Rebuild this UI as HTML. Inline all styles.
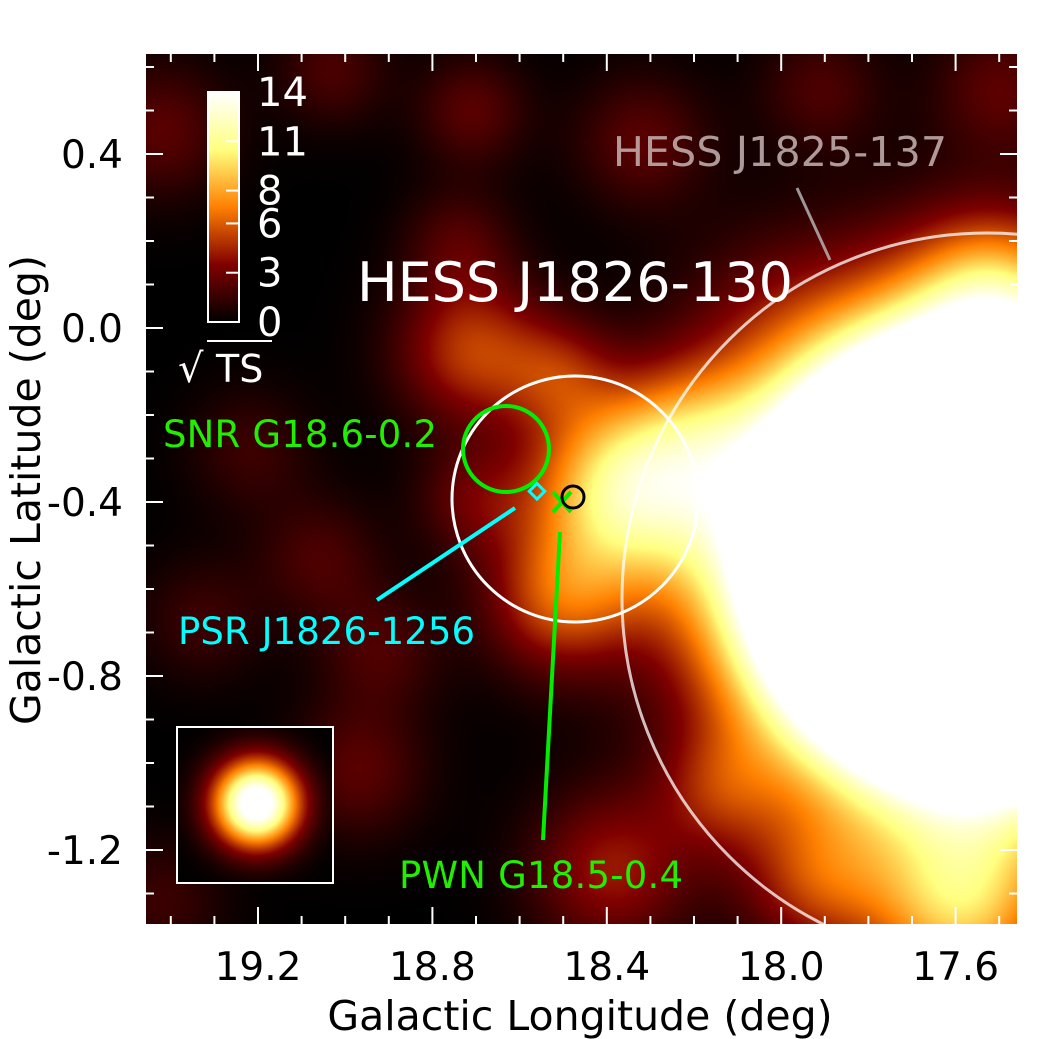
<!DOCTYPE html>
<html><head><meta charset="utf-8"><style>
body{margin:0;background:#fff;}
#wrap{position:relative;width:1039px;height:1039px;overflow:hidden;font-family:"Liberation Sans","DejaVu Sans",sans-serif;}
canvas{position:absolute;left:146px;top:54px;}
svg{position:absolute;left:0;top:0;}
text{font-family:"DejaVu Sans","Liberation Sans",sans-serif;}
</style></head><body>
<div id="wrap">
<canvas id="map" width="871" height="870"></canvas>
<svg id="ov" width="1039" height="1039">
<defs><linearGradient id="cb" x1="0" y1="1" x2="0" y2="0">
<stop offset="0" stop-color="#000"/><stop offset="0.25" stop-color="#800000"/><stop offset="0.5" stop-color="#ff8000"/><stop offset="0.75" stop-color="#ffff80"/><stop offset="1" stop-color="#fff"/></linearGradient></defs>
<g id="ticks"></g>
<rect x="208" y="92" width="31" height="230" fill="url(#cb)" stroke="#fff" stroke-width="2"/>
<g id="cbticks"></g>
<g id="cblabels" fill="#fff" font-size="40"></g>
<text x="178" y="382" fill="#fff" font-size="40">√</text>
<text x="216" y="382" fill="#fff" font-size="38">TS</text>
<line x1="207" y1="341" x2="272" y2="341" stroke="#fff" stroke-width="2"/>
<rect x="177" y="727" width="156" height="156" fill="none" stroke="#fff" stroke-width="2"/>
<circle cx="987" cy="598" r="365" fill="none" stroke="#fff" stroke-opacity="0.75" stroke-width="3"/>
<circle cx="575" cy="499" r="123" fill="none" stroke="#fff" stroke-width="3"/>
<circle cx="506" cy="449" r="43" fill="none" stroke="#00ee00" stroke-width="4"/>
<rect x="531" y="486" width="11" height="11" fill="none" stroke="#00ffff" stroke-width="3" transform="rotate(45 537 492)"/>
<path d="M553 492 L571 512 M571 492 L553 512" stroke="#00ee00" stroke-width="4"/>
<circle cx="573" cy="497" r="11" fill="none" stroke="#000" stroke-width="3"/>
<line x1="797" y1="188" x2="830" y2="260" stroke="#bbb" stroke-opacity="0.8" stroke-width="3"/>
<line x1="515" y1="508" x2="377" y2="600" stroke="#00ffff" stroke-width="4"/>
<line x1="560" y1="532" x2="543" y2="840" stroke="#00ee00" stroke-width="4"/>
<text x="613" y="166" fill="#c8b4b4" fill-opacity="0.85" font-size="41" textLength="334">HESS J1825-137</text>
<text x="357" y="301" fill="#fff" font-size="54" textLength="436">HESS J1826-130</text>
<text x="163" y="447" fill="#22ee00" font-size="37" textLength="274">SNR G18.6-0.2</text>
<text x="178" y="644" fill="#00ffff" font-size="37" textLength="297">PSR J1826-1256</text>
<text x="399" y="888" fill="#22ee00" font-size="37" textLength="284">PWN G18.5-0.4</text>
<g id="xl" font-size="39" text-anchor="middle"></g>
<g id="yl" font-size="39" text-anchor="end"></g>
<text x="580" y="1030" font-size="41" text-anchor="middle">Galactic Longitude (deg)</text>
<text x="0" y="0" font-size="41" text-anchor="middle" transform="translate(40,490) rotate(-90)">Galactic Latitude (deg)</text>
</svg>
</div>
<script>
// ---- data ----
const srcLon = [17.56,17.52,18.36,18.51,18.19,18.71,18.51,19.42,19.03,18.71,18.32,17.91,17.50,18.74,18.05,19.22,19.06,18.92,18.97,18.39,17.59,18.14,19.33,18.71,19.42,17.92];
const srcLat = [-0.53,0.10,-0.37,-0.625,-0.234,-0.05,-0.10,0.455,0.593,0.50,0.43,0.55,0.55,0.20,0.06,-0.28,-0.53,-0.74,-1.016,-1.246,-1.33,-1.06,-0.67,-0.395,-1.315,-1.27];
const srcAmp = [75,4,10,5,3,5,3,2.4,2,2.4,2.4,2,2.4,2,1,1.6,2,2,2.4,4,8,3,1.6,2.4,1.6,4];
const srcSig = [0.30,0.12,0.15,0.12,0.12,0.12,0.09,0.11,0.09,0.09,0.11,0.1,0.11,0.09,0.14,0.1,0.1,0.1,0.11,0.13,0.15,0.1,0.1,0.09,0.1,0.12];
const xTicks = [19.2,18.8,18.4,18.0,17.6];
const xTickLabels = ["19.2","18.8","18.4","18.0","17.6"];
const yTicks = [0.4,0.0,-0.4,-0.8,-1.2];
const yTickLabels = ["0.4","0.0","-0.4","-0.8","-1.2"];
const cbTicks = [14,11,8,6,3,0];
const cbMax = 14;
// ---- axes ----
const X0=146,X1=1017,Y0=54,Y1=924;
function xs(lon){return 258+(19.2-lon)*436;}
function ys(lat){return 154+(0.4-lat)*435;}
function lonOf(px){return 19.2-(px-258)/436;}
function latOf(py){return 0.4-(py-154)/435;}
function cmap(v){let t=Math.max(0,Math.min(1,v/cbMax));return [Math.min(1,2*t)*255,Math.max(0,Math.min(1,2*t-0.5))*255,Math.max(0,Math.min(1,2*t-1))*255];}
// ---- map ----
const cv=document.getElementById('map'),ctx=cv.getContext('2d');
const W=871,H=870,img=ctx.createImageData(W,H);
for(let j=0;j<H;j++){const lat=latOf(Y0+j);for(let i=0;i<W;i++){const px=X0+i,py=Y0+j;let v=0;
 if(px>=177&&px<=333&&py>=727&&py<=883){const dx=px-256,dy=py-803;v=16*Math.exp(-(dx*dx+dy*dy)/(2*30*30));}
 else{const lon=lonOf(px);for(let k=0;k<srcLon.length;k++){const a=(lon-srcLon[k]),b=(lat-srcLat[k]);v+=srcAmp[k]*Math.exp(-(a*a+b*b)/(2*srcSig[k]*srcSig[k]));}}
 const c=cmap(v),o=(j*W+i)*4;img.data[o]=c[0];img.data[o+1]=c[1];img.data[o+2]=c[2];img.data[o+3]=255;}}
ctx.putImageData(img,0,0);
// ---- ticks ----
const NS='http://www.w3.org/2000/svg';
const tg=document.getElementById('ticks');
function ln(g,x1,y1,x2,y2,name,col,w){const l=document.createElementNS(NS,'line');l.setAttribute('x1',x1);l.setAttribute('y1',y1);l.setAttribute('x2',x2);l.setAttribute('y2',y2);l.setAttribute('stroke',col);l.setAttribute('stroke-width',w);


g.appendChild(l);}
for(let k=-3;k<=22;k++){const lon=19.2-k*0.1;const x=xs(lon);if(x<X0+2||x>X1-2)continue;const L=(k%4===0)?17:8;
 ln(tg,x,Y1,x,Y1-L,'x-tick','#fff',2);ln(tg,x,Y0,x,Y0+L,'x-tick-top','#fff',2);}
for(let k=-3;k<=22;k++){const lat=0.4-k*0.1;const y=ys(lat);if(y<Y0+2||y>Y1-2)continue;const L=(k%4===0)?17:8;
 ln(tg,X0,y,X0+L,y,'y-tick','#fff',2);ln(tg,X1,y,X1-L,y,'y-tick-right','#fff',2);}
const xl=document.getElementById('xl');
xTicks.forEach((v,i)=>{const t=document.createElementNS(NS,'text');t.setAttribute('x',xs(v));t.setAttribute('y',980);t.textContent=xTickLabels[i];


xl.appendChild(t);});
const yl=document.getElementById('yl');
yTicks.forEach((v,i)=>{const t=document.createElementNS(NS,'text');t.setAttribute('x',123);t.setAttribute('y',ys(v)+14);t.textContent=yTickLabels[i];


yl.appendChild(t);});
const cbg=document.getElementById('cbticks'),cbl=document.getElementById('cblabels');
cbTicks.forEach(v=>{const y=322-v/cbMax*230;ln(cbg,226,y,239,y,'colorbar-tick','#fff',2);
const t=document.createElementNS(NS,'text');t.setAttribute('x',257);t.setAttribute('y',y+14);t.textContent=v;


cbl.appendChild(t);});
</script>
</body></html>
